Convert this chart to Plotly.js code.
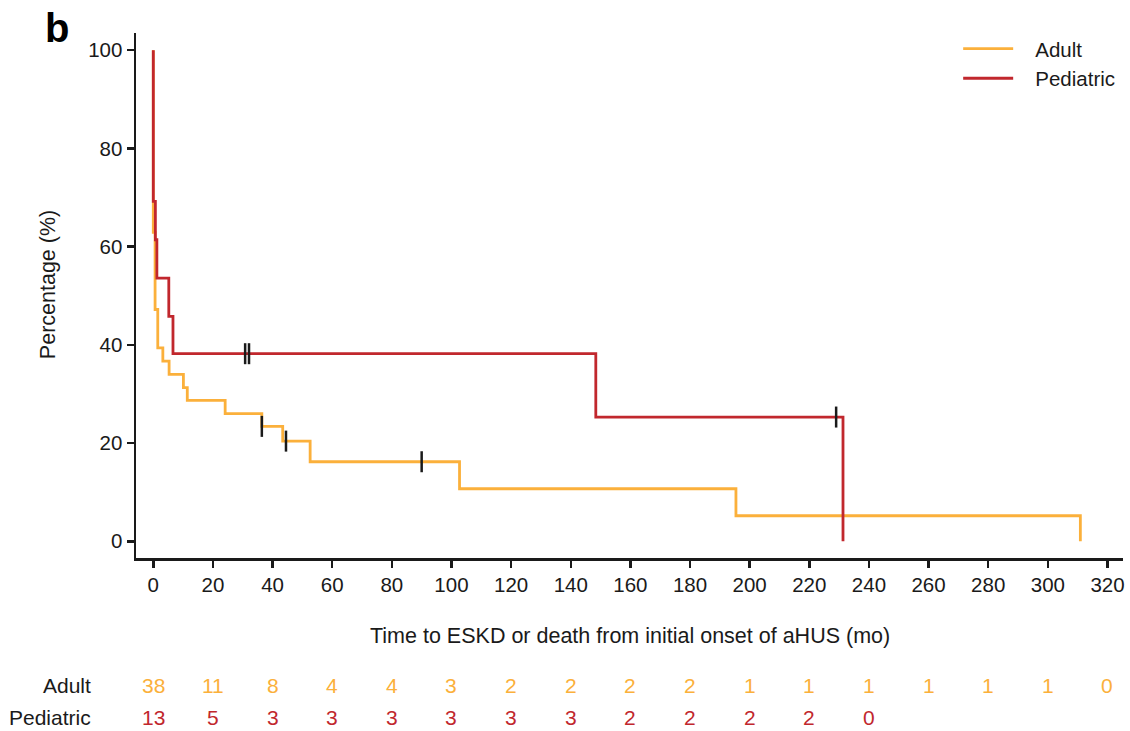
<!DOCTYPE html>
<html>
<head>
<meta charset="utf-8">
<script src="https://cdn.plot.ly/plotly-3.0.1.min.js"></script>
<style>html,body{margin:0;padding:0;background:#fff;}#chart{width:1130px;height:731px;}</style>
</head>
<body>
<div id="chart"></div>
<script>
// Kaplan-Meier steps (time in months, percentage)
const adultTime = [0, 0, 0.6, 1.5, 3.2, 5.3, 10.1, 11.4, 24.1, 36.4, 43.4, 52.6, 102.7, 195.4, 310.9];
const adultPct  = [100, 62.9, 47.2, 39.4, 36.7, 34.0, 31.3, 28.7, 26.0, 23.4, 20.4, 16.2, 10.7, 5.2, 0];
const pedTime = [0, 0, 0.7, 1.2, 5.2, 6.6, 148.4, 231.3];
const pedPct  = [100, 69.2, 61.4, 53.6, 45.8, 38.2, 25.3, 0];

// Censored observations
const adultCensorTime = [36.4, 44.5, 90.0];
const adultCensorPct  = [23.4, 20.4, 16.2];
const pedCensorTime = [30.8, 32.1, 229.0];
const pedCensorPct  = [38.2, 38.2, 25.3];

// Number at risk
const riskTimes = [0, 20, 40, 60, 80, 100, 120, 140, 160, 180, 200, 220, 240, 260, 280, 300, 320];
const adultRisk = [38, 11, 8, 4, 4, 3, 2, 2, 2, 2, 1, 1, 1, 1, 1, 1, 0];
const pedRisk   = [13, 5, 3, 3, 3, 3, 3, 3, 2, 2, 2, 2, 0];

const xTicks = [0, 20, 40, 60, 80, 100, 120, 140, 160, 180, 200, 220, 240, 260, 280, 300, 320];
const yTicks = [0, 20, 40, 60, 80, 100];

const cAdult = '#FBB03B';
const cPed = '#C1272D';
const FONT = 'Liberation Sans, Arial, sans-serif';
const TXT = '#1a1a1a';

const traces = [
  {x: adultTime, y: adultPct, type: 'scatter', mode: 'lines', line: {shape: 'hv', color: cAdult, width: 2.8}, name: '&nbsp;&nbsp;&nbsp;Adult'},
  {x: pedTime, y: pedPct, type: 'scatter', mode: 'lines', line: {shape: 'hv', color: cPed, width: 2.8}, name: '&nbsp;&nbsp;&nbsp;Pediatric'},
  {x: adultCensorTime, y: adultCensorPct, type: 'scatter', mode: 'markers', showlegend: false,
   marker: {symbol: 'line-ns', size: 15, line: {width: 2.5, color: '#1a1a1a'}}},
  {x: pedCensorTime, y: pedCensorPct, type: 'scatter', mode: 'markers', showlegend: false,
   marker: {symbol: 'line-ns', size: 15, line: {width: 2.5, color: '#1a1a1a'}}}
];

const annotations = [];
const rowAdultY = -0.2438, rowPedY = -0.3029;
const RS = 21;
adultRisk.forEach((v, i) => annotations.push({x: riskTimes[i], y: rowAdultY, xref: 'x', yref: 'paper', text: String(v),
  showarrow: false, xanchor: 'center', yanchor: 'middle', font: {family: FONT, size: RS, color: cAdult}}));
pedRisk.forEach((v, i) => annotations.push({x: riskTimes[i], y: rowPedY, xref: 'x', yref: 'paper', text: String(v),
  showarrow: false, xanchor: 'center', yanchor: 'middle', font: {family: FONT, size: RS, color: cPed}}));
annotations.push({x: -0.0436, y: rowAdultY, xref: 'paper', yref: 'paper', text: 'Adult', showarrow: false,
  xanchor: 'right', yanchor: 'middle', font: {family: FONT, size: RS, color: TXT}});
annotations.push({x: -0.0436, y: rowPedY, xref: 'paper', yref: 'paper', text: 'Pediatric', showarrow: false,
  xanchor: 'right', yanchor: 'middle', font: {family: FONT, size: RS, color: TXT}});
annotations.push({x: 0.5, y: -0.148, xref: 'paper', yref: 'paper', text: 'Time to ESKD or death from initial onset of aHUS (mo)',
  showarrow: false, xanchor: 'center', yanchor: 'middle', font: {family: FONT, size: 21.5, color: TXT}});
annotations.push({x: -0.089, y: 0.52, xref: 'paper', yref: 'paper', text: 'Percentage (%)', textangle: -90,
  showarrow: false, xanchor: 'center', yanchor: 'middle', font: {family: FONT, size: 21.5, color: TXT}});
annotations.push({x: -0.080, y: 1.01, xref: 'paper', yref: 'paper', text: '<b>b</b>',
  showarrow: false, xanchor: 'center', yanchor: 'middle', font: {family: FONT, size: 40, color: '#000'}});

const layout = {
  width: 1130, height: 731,
  margin: {l: 136, r: 7, t: 33, b: 173},
  paper_bgcolor: '#fff', plot_bgcolor: '#fff',
  font: {family: FONT, size: 20, color: TXT},
  xaxis: {range: [-5.8, 325.2], tickvals: xTicks, ticks: 'outside', ticklen: 7, tickwidth: 2.5, tickcolor: TXT,
    showline: true, linewidth: 2.5, linecolor: TXT, showgrid: false, zeroline: false,
    tickfont: {family: FONT, size: 20.5, color: TXT}},
  yaxis: {range: [-3.4, 103.5], tickvals: yTicks, ticks: 'outside', ticklen: 7, tickwidth: 2.5, tickcolor: TXT,
    showline: true, linewidth: 2.5, linecolor: TXT, showgrid: false, zeroline: false,
    tickfont: {family: FONT, size: 20.5, color: TXT}},
  showlegend: true,
  legend: {x: 0.833, y: 1.008, xanchor: 'left', yanchor: 'top', bgcolor: 'rgba(0,0,0,0)',
    font: {family: FONT, size: 20.5, color: TXT}, itemwidth: 50, tracegroupgap: 0},
  annotations: annotations
};

Plotly.newPlot('chart', traces, layout, {staticPlot: true, displayModeBar: false});
</script>
</body>
</html>
